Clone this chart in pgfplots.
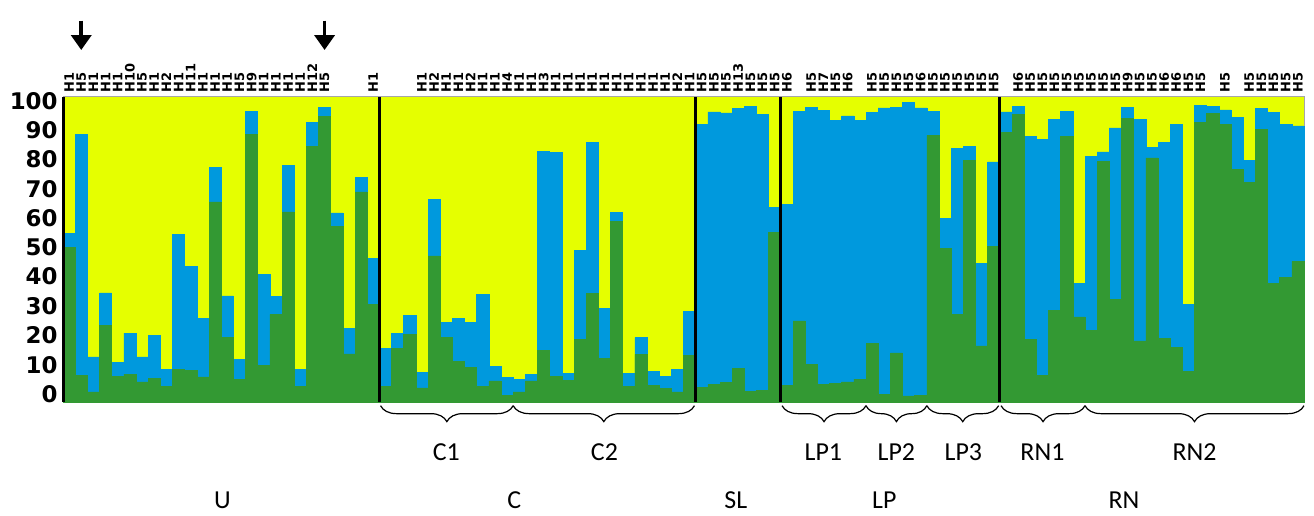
\documentclass[border=0pt]{standalone}
\usepackage{fontspec}
\setmainfont{Carlito}
\newfontfamily\dejavu{DejaVu Sans}
\usepackage{pgfplots}
\pgfplotsset{compat=1.18}
\usepackage{pgfplotstable}
\usetikzlibrary{arrows.meta,decorations.pathreplacing}

\definecolor{strY}{HTML}{E5FF00}
\definecolor{strB}{HTML}{0099DD}
\definecolor{strG}{HTML}{339933}

% x = bar centre, g = top of green, b = top of blue (rest is yellow)
\pgfplotstableread{
x g b
0.5 50.8 55.4
1.5 8.7 87.8
2.5 3.3 14.8
3.5 25.1 35.8
4.5 8.4 12.9
5.5 9.1 22.6
6.5 6.6 14.8
7.5 7.7 21.9
8.5 5.2 10.6
9.5 10.6 55.0
10.5 10.4 44.5
11.5 8.2 27.3
12.5 65.6 77.0
13.5 21.1 34.8
14.5 7.3 14.0
15.5 87.8 95.4
16.5 12.0 41.9
17.5 28.7 34.6
18.5 62.3 77.6
19.5 5.2 10.6
20.5 83.9 91.8
21.5 93.7 96.5
22.5 57.6 62.0
23.5 15.8 24.0
24.5 68.9 73.6
25.5 31.9 47.0
26.5 5.1 17.7
27.5 17.7 22.6
28.5 22.2 28.4
29.5 4.6 9.8
30.5 47.9 66.3
31.5 21.3 26.2
32.5 13.4 27.3
33.5 11.3 26.0
34.5 5.1 35.4
35.5 6.9 11.7
36.5 2.2 8.0
37.5 3.3 7.3
38.5 6.9 9.0
39.5 16.9 82.1
40.5 8.5 81.9
41.5 7.1 9.5
42.5 20.5 49.7
43.5 35.5 85.1
44.5 14.2 30.6
45.5 59.2 62.2
46.5 5.2 9.5
47.5 15.6 21.1
48.5 5.5 10.1
49.5 4.4 8.4
50.5 3.3 10.6
51.5 15.2 29.8
52.5 4.9 90.9
53.5 5.8 95.1
54.5 6.3 94.8
55.5 10.9 96.2
56.5 3.5 97.0
57.5 3.8 94.2
58.5 55.7 63.7
59.5 5.5 64.7
60.5 26.6 95.4
61.5 12.2 96.5
62.5 5.7 95.6
63.5 6.0 92.3
64.5 6.6 93.8
65.5 7.5 92.3
66.5 19.1 94.9
67.5 2.5 96.4
68.5 16.1 96.7
69.5 2.0 98.1
70.5 2.2 96.4
71.5 87.4 95.4
72.5 50.3 60.1
73.5 28.7 83.1
74.5 79.2 83.9
75.5 18.4 45.4
76.5 51.1 78.7
77.5 88.5 95.1
78.5 94.3 96.9
79.5 20.5 87.1
80.5 8.7 86.1
81.5 30.1 92.7
82.5 87.1 95.3
83.5 27.9 38.8
84.5 23.5 80.5
85.5 78.9 82.0
86.5 33.6 89.9
87.5 93.1 96.7
88.5 20.0 92.7
89.5 80.0 83.4
90.5 20.8 85.2
91.5 17.8 90.9
92.5 10.1 31.9
93.5 91.6 97.3
94.5 94.5 96.9
95.5 91.0 95.8
96.5 76.2 93.4
97.5 71.9 79.2
98.5 89.3 96.2
99.5 38.8 94.9
100.5 40.8 91.0
101.5 46.1 90.5
}\qdata

\begin{document}
\begin{tikzpicture}
\useasboundingbox (0,0) rectangle (657bp,258bp);
\begin{axis}[
  at={(31.5bp,57bp)}, anchor=south west,
  scale only axis, width=620.5bp, height=152.5bp,
  xmin=0, xmax=102, ymin=0, ymax=100,
  clip=false,
  axis background/.style={fill=strY},
  axis line style={draw=gray!70, line width=0.5bp},
  major tick length=0pt,
  ytick={2.6,12.2,21.8,31.4,41.1,50.7,60.3,69.9,79.5,89.1,98.7},
  yticklabels={0,10,20,30,40,50,60,70,80,90,100},
  yticklabel style={font=\dejavu\bfseries\fontsize{11.5}{12}\selectfont, inner sep=0pt, anchor=east, xshift=-2.5bp},
  xtick={0.5,1.5,...,101.5},
  xticklabel pos=right,
  xticklabels={H1,H5,H1,H1,H1,H10,H5,H1,H2,H1,H11,H1,H1,H1,H5,H9,H1,H1,H1,H1,H12,H5,{},{},{},H1,
    {},{},{},H1,H2,H1,H1,H2,H1,H1,H4,H1,H1,H3,H1,H1,H1,H1,H1,H1,H1,H1,H1,H1,H2,H1,
    H5,H5,H5,H13,H5,H5,H5,
    H6,{},H5,H7,H5,H6,{},H5,H5,H5,H5,H6,H5,H5,H5,H5,H5,H5,
    {},H6,H5,H5,H5,H5,H5,H5,H5,H5,H9,H5,H5,H6,H6,H5,H5,{},H5,{},H5,H5,H5,H5,H5},
  xticklabel style={font=\dejavu\bfseries\fontsize{6.5}{7}\selectfont, rotate=90, anchor=west, inner xsep=2bp, inner ysep=0pt},
]
\addplot[ybar, bar width=1, bar shift=0pt, fill=strB, draw=strB, line width=0.3bp] table[x=x, y=b] {\qdata};
\addplot[ybar, bar width=1, bar shift=0pt, fill=strG, draw=strG, line width=0.3bp] table[x=x, y=g] {\qdata};

% population separators and left frame
\draw[line width=1.5bp] (axis cs:0,0) -- (axis cs:0,100);
\draw[line width=1.5bp] (axis cs:26,0) -- (axis cs:26,100);
\draw[line width=1.5bp] (axis cs:52,0) -- (axis cs:52,100);
\draw[line width=1.5bp] (axis cs:59,0) -- (axis cs:59,100);
\draw[line width=1.5bp] (axis cs:77,0) -- (axis cs:77,100);

% arrows
\draw[-{Triangle[width=10bp,length=7.5bp]}, line width=1.9bp] (axis cs:1.5,125) -- (axis cs:1.5,115.4);
\draw[-{Triangle[width=10bp,length=7.5bp]}, line width=1.9bp] (axis cs:21.5,125) -- (axis cs:21.5,115.4);

% sub-group braces
\tikzset{grpbrace/.style={decorate, decoration={brace, mirror, amplitude=8bp}, line width=0.6bp}}
\draw[grpbrace] (axis cs:26.1,-1.2) -- (axis cs:37,-1.2);
\draw[grpbrace] (axis cs:37,-1.2) -- (axis cs:51.9,-1.2);
\draw[grpbrace] (axis cs:59.1,-1.2) -- (axis cs:66,-1.2);
\draw[grpbrace] (axis cs:66,-1.2) -- (axis cs:71,-1.2);
\draw[grpbrace] (axis cs:71,-1.2) -- (axis cs:76.9,-1.2);
\draw[grpbrace] (axis cs:77.1,-1.2) -- (axis cs:84,-1.2);
\draw[grpbrace] (axis cs:84,-1.2) -- (axis cs:102,-1.2);

\tikzset{grplab/.style={font=\fontsize{13}{15}\selectfont, inner sep=0pt}}
\node[grplab] at (axis cs:31.5,-16.4) {C1};
\node[grplab] at (axis cs:44.5,-16.4) {C2};
\node[grplab] at (axis cs:62.5,-16.4) {LP1};
\node[grplab] at (axis cs:68.5,-16.4) {LP2};
\node[grplab] at (axis cs:74,-16.4) {LP3};
\node[grplab] at (axis cs:80.5,-16.4) {RN1};
\node[grplab] at (axis cs:93,-16.4) {RN2};

\node[grplab] at (axis cs:13.1,-32.3) {U};
\node[grplab] at (axis cs:37.1,-32.3) {C};
\node[grplab] at (axis cs:55.3,-32.3) {SL};
\node[grplab] at (axis cs:67.5,-32.3) {LP};
\node[grplab] at (axis cs:87.2,-32.3) {RN};
\end{axis}
\end{tikzpicture}
\end{document}
